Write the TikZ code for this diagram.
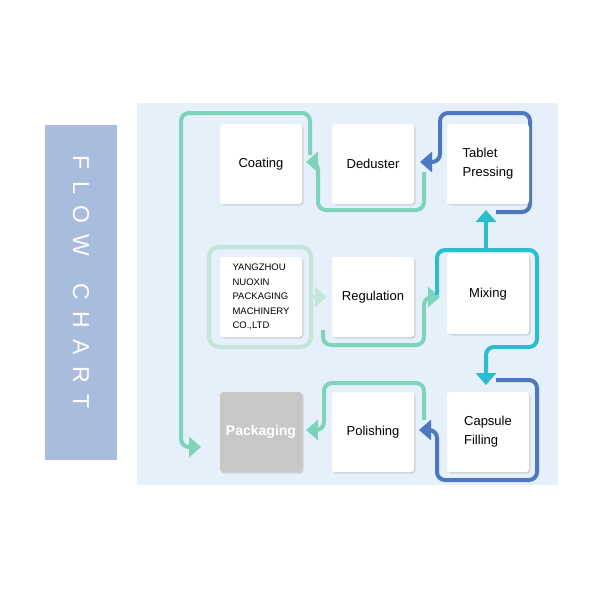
\documentclass[tikz,border=0pt]{standalone}
\usepackage{fontspec}
\setmainfont{Liberation Sans}
\usetikzlibrary{arrows.meta,shadows}
\definecolor{bg}{HTML}{E6F0FA}
\definecolor{gr}{HTML}{7DD4BA}
\definecolor{bl}{HTML}{4C78C2}
\definecolor{cy}{HTML}{2BBDCD}
\definecolor{pale}{HTML}{C4E6DA}
\definecolor{bar}{HTML}{A8BDDD}
\begin{document}
\begin{tikzpicture}[x=1pt,y=-1pt,
  box/.style={draw=none,fill=white,rounded corners=3pt,minimum width=82pt,minimum height=80pt,
     drop shadow={shadow xshift=1.5pt,shadow yshift=-1.5pt,opacity=0.25},font=\fontsize{13}{19}\selectfont,align=left},
  lp/.style={line width=4pt,rounded corners=8pt,-{Triangle[width=20pt,length=12pt]}}]
\useasboundingbox (0,0) rectangle (600,600);
\fill[bar] (45,125) rectangle (117,460);
\node[rotate=-90,text=white,font=\fontsize{23}{23}\selectfont] (fc) at (81,282) {F\,\,\,L\,\,\,O\,\,\,W\,\,\,\,\,\,\,C\,\,\,H\,\,\,A\,\,\,R\,\,\,T};
\fill[bg] (137,103) rectangle (558,485);
% loops
\draw[lp,gr] (310,155)--(310,113)--(181,113)--(181,447)--(201,447);
\draw[lp,bl] (496,212)--(530,212)--(530,113)--(440,113)--(440,162)--(420,162);
\draw[lp,gr] (424,172)--(424,210)--(318,210)--(318,162)--(306,162);
\draw[line width=4pt,pale,rounded corners=10pt] (209,247) rectangle (311,347);
\draw[lp,pale] (311,297)--(327,297);
\draw[lp,gr] (323,330)--(323,345)--(424,345)--(424,297)--(440,297);
\draw[lp,cy] (437,295)--(437,250)--(537,250)--(537,347)--(486,347)--(486,385);
\draw[lp,cy] (486,252)--(486,210);
\draw[lp,bl] (496,380)--(537,380)--(537,480)--(437,480)--(437,430)--(419,430);
\draw[lp,gr] (424,420)--(424,383)--(324,383)--(324,430)--(306,430);
% boxes
\node[box] (coat) at (261,164) {Coating};
\node[box] (ded) at (373,164) {Deduster};
\node[box] (tab) at (488,164) {Tablet\\Pressing};
\node[box,font=\fontsize{9.5}{14.5}\selectfont] (co) at (261,297) {YANGZHOU\\NUOXIN\\PACKAGING\\MACHINERY\\CO.,LTD};
\node[box] (reg) at (373,297) {Regulation};
\node[box] (mix) at (488,294) {Mixing};
\node[box,fill=black!22,text=white,font=\bfseries\fontsize{14}{17}\selectfont] (pack) at (261,432) {Packaging};
\node[box] (pol) at (373,432) {Polishing};
\node[box] (cap) at (488,432) {Capsule\\Filling};
\end{tikzpicture}
\end{document}
